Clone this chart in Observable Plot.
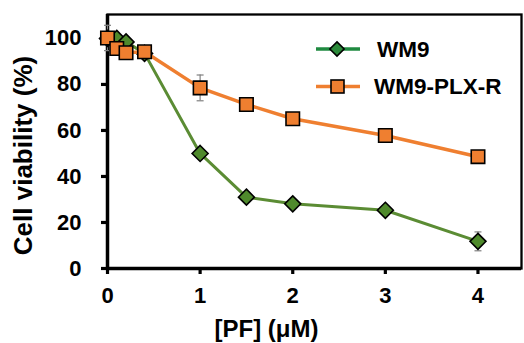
<!DOCTYPE html>
<html><head><meta charset="utf-8">
<script src="https://cdn.jsdelivr.net/npm/d3@7"></script>
<script src="https://cdn.jsdelivr.net/npm/@observablehq/plot@0.6"></script>
<style>
body{margin:0;background:#fff;}
#wrap{position:relative;width:524px;height:343px;overflow:hidden;}
#legend{position:absolute;left:0;top:0;pointer-events:none;}
</style></head><body><div id="wrap"></div>
<script>
const concentrations = [0, 0.1, 0.2, 0.4, 1, 1.5, 2, 3, 4];
const wm9 = [100, 100, 98.5, 93.5, 50, 31, 28.1, 25.3, 11.8];
const wm9Err = [0, 0, 0, 0, 0.8, 0.8, 1, 1, 4.1];
const plx = [100.2, 95.6, 93.8, 94.2, 78.5, 71.3, 65.1, 57.8, 48.6];
const plxErr = [5.5, 1, 1, 1, 5.6, 1, 2.3, 1, 1];
const xTicks = [0, 1, 2, 3, 4];
const yTicks = [0, 20, 40, 60, 80, 100];
const seriesNames = ["WM9", "WM9-PLX-R"];
const xTitle = "[PF] (\u03bcM)";
const yTitle = "Cell viability (%)";

const green = "#5b8c34", greenFill = "#4f8a2c", legendGreen = "#1f8a40";
const orange = "#ef7f30";
const font = "'Liberation Sans', Arial, sans-serif";

const rowsW = concentrations.map((x, i) => ({x, y: wm9[i], e: wm9Err[i]}));
const rowsP = concentrations.map((x, i) => ({x, y: plx[i], e: plxErr[i]}));
const errRows = [...rowsW, ...rowsP].filter(d => d.e > 0);

const cap = {draw(ctx, size) { const r = Math.sqrt(size / Math.PI); ctx.moveTo(-r, 0); ctx.lineTo(r, 0); }};

const chart = Plot.plot({
  width: 524, height: 343,
  marginLeft: 107, marginRight: 3, marginTop: 14, marginBottom: 75,
  style: {fontFamily: font, background: "#fff", color: "#000"},
  x: {domain: [0, 4.47], axis: null},
  y: {domain: [0, 110.4], axis: null},
  marks: [
    Plot.frame({stroke: "#000", strokeWidth: 2.3}),
    Plot.axisY(yTicks, {tickSize: 6, tickPadding: 20, fontSize: 22, fontWeight: "bold", strokeWidth: 3.2, label: null}),
    Plot.axisX(xTicks, {tickSize: 6, tickPadding: 13, fontSize: 22, fontWeight: "bold", strokeWidth: 3.2, label: null}),
    Plot.ruleX([0], {stroke: "#000", strokeWidth: 3.5}),
    Plot.ruleY([0], {stroke: "#000", strokeWidth: 3.5}),
    Plot.ruleX(errRows, {x: "x", y1: d => d.y - d.e, y2: d => d.y + d.e, stroke: "#808080", strokeWidth: 1.2}),
    Plot.dot(errRows, {x: "x", y: d => d.y + d.e, symbol: cap, r: 3.5, fill: "none", stroke: "#808080", strokeWidth: 1.2}),
    Plot.dot(errRows, {x: "x", y: d => d.y - d.e, symbol: cap, r: 3.5, fill: "none", stroke: "#808080", strokeWidth: 1.2}),
    Plot.line(rowsW, {x: "x", y: "y", stroke: green, strokeWidth: 3}),
    Plot.dot(rowsW, {x: "x", y: "y", symbol: "diamond2", r: 7.2, fill: greenFill, stroke: "#000", strokeWidth: 1.6}),
    Plot.line(rowsP, {x: "x", y: "y", stroke: orange, strokeWidth: 3.5}),
    Plot.dot(rowsP, {x: "x", y: "y", symbol: "square", r: 7.6, fill: orange, stroke: "#000", strokeWidth: 1.6}),
    Plot.text([yTitle], {frameAnchor: "left", textAnchor: "middle", lineAnchor: "middle", rotate: -90, dx: -84, dy: 14, fontSize: 26, fontWeight: "bold", fill: "#000"}),
    Plot.text([xTitle], {frameAnchor: "bottom", textAnchor: "middle", lineAnchor: "bottom", dx: -48, dy: 68, fontSize: 24, fontWeight: "bold", fill: "#000"})
  ]
});
const wrap = document.getElementById("wrap");
wrap.appendChild(chart);

// legend overlay
const svg = d3.select(wrap).append("svg").attr("id", "legend").attr("width", 524).attr("height", 343)
  .style("font-family", font);
const items = [
  {name: seriesNames[0], line: legendGreen, fill: "#2b8a3a", sym: "diamond", cy: 49, tx: 377},
  {name: seriesNames[1], line: orange, fill: orange, sym: "square", cy: 86.5, tx: 374}
];
items.forEach(it => {
  svg.append("line").attr("x1", 316).attr("x2", 360).attr("y1", it.cy).attr("y2", it.cy)
    .attr("stroke", it.line).attr("stroke-width", 3.5);
  if (it.sym === "diamond") {
    svg.append("path").attr("d", d3.symbol(d3.symbolDiamond2, 130)())
      .attr("transform", `translate(337,${it.cy})`).attr("fill", it.fill).attr("stroke", "#000").attr("stroke-width", 1.6);
  } else {
    svg.append("rect").attr("x", 331).attr("y", it.cy - 6.5).attr("width", 13).attr("height", 13)
      .attr("fill", it.fill).attr("stroke", "#000").attr("stroke-width", 1.6);
  }
  svg.append("text").attr("x", it.tx).attr("y", it.cy).attr("dy", "0.35em")
    .attr("font-size", 22.5).attr("font-weight", "bold").attr("fill", "#000").text(it.name);
});
</script>
</body></html>
